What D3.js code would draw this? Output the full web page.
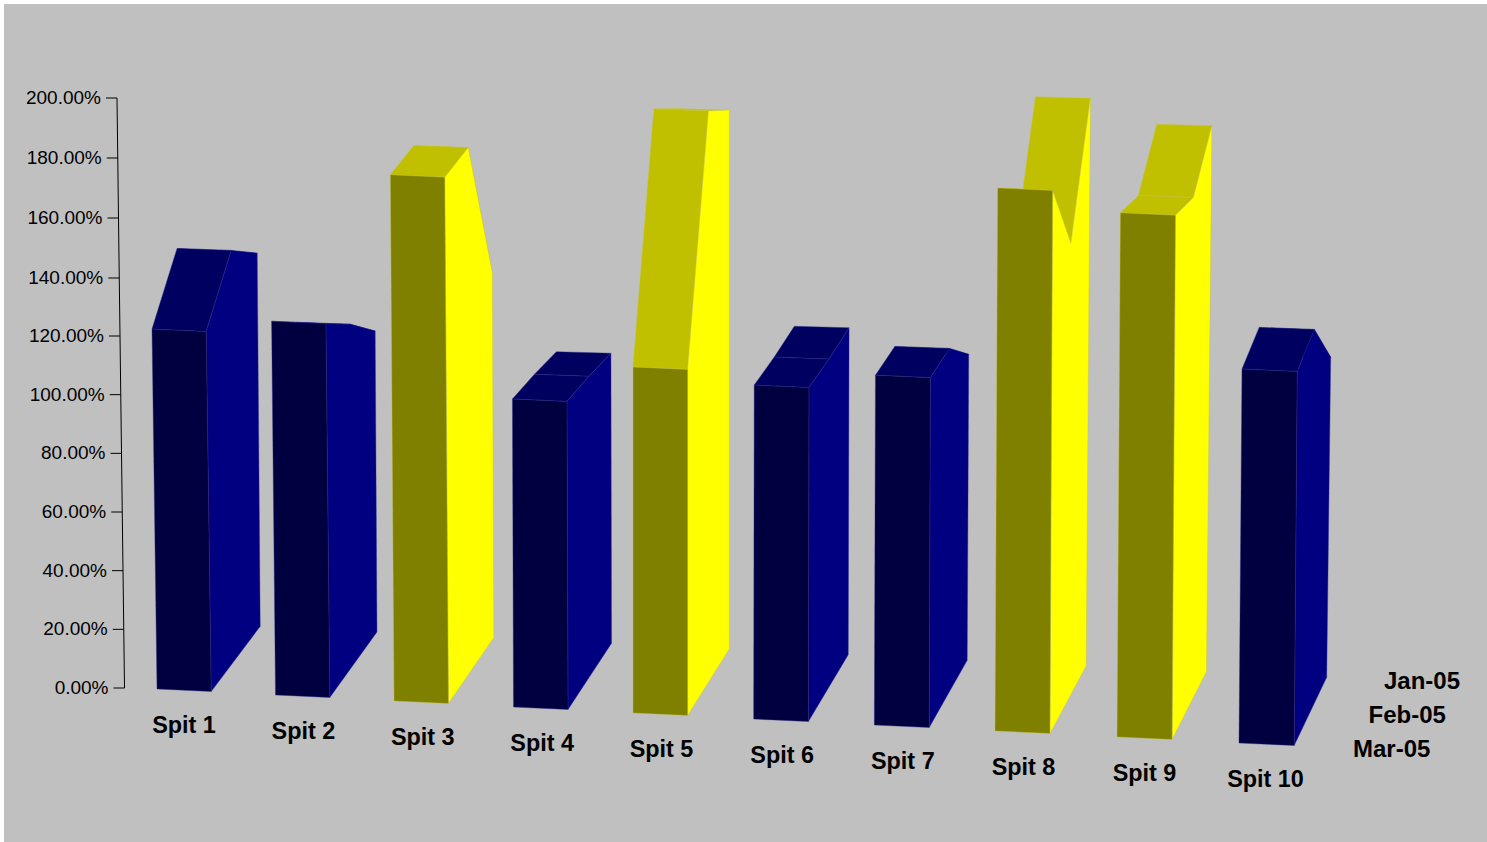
<!DOCTYPE html>
<html><head><meta charset="utf-8">
<script src="https://cdn.jsdelivr.net/npm/d3@7"></script>
<style>html,body{margin:0;padding:0;background:#fff}svg{display:block}</style>
</head><body><svg id="c" width="1487" height="842"></svg>
<script>
const categories = ["Spit 1","Spit 2","Spit 3","Spit 4","Spit 5","Spit 6","Spit 7","Spit 8","Spit 9","Spit 10"];
const seriesNames = ["Mar-05","Feb-05","Jan-05"];
const mar05 = [122.2,126.9,178.7,104.6,117.5,113.4,118.8,184.4,178.0,127.0];
const feb05 = [138.7,115.6,177.6,101.9,194.0,111.7,117.3,155.0,172.5,129.7];
const jan05 = [126.7,102.2,124.0,98.5,183.0,111.0,103.9,192.8,185.4,108.7];
const axisTicks = [0,20,40,60,80,100,120,140,160,180,200];
const seriesValues = [mar05,feb05,jan05];

const svg = d3.select("#c");
svg.append("rect").attr("x",4).attr("y",4).attr("width",1483).attr("height",838).attr("fill","#c0c0c0");

// projection scales
const last = categories.length-1;
const baseX = d3.scaleLinear().domain([0,2,4,7,last]).range([157,394,633,995,1239]);
const baseY = d3.scaleLinear().domain([0,last]).range([689,743]);
const depthDX = d3.scaleLinear().domain([0,last]).range([49,32.5]);
const depthDY = d3.scaleLinear().domain([0,last]).range([-64.2,-67.2]);
const leanFront = d3.scaleLinear().domain([0,4,last]).range([-0.0139,0,0.008]);
const leanBack  = d3.scaleLinear().domain([0,4,last]).range([-0.008,0,0.0125]);
const height = d3.scaleLinear().domain([0,200]).range([0,589]);
const depth = d3.scalePoint().domain(seriesNames).range([0,1]);
const barW = d3.scaleLinear().domain([0,last]).range([54.2,55.2]);
const barSkew = d3.scaleLinear().domain([0,1]).range([2.5,1.5]);

const axisY = d3.scaleLinear().domain([0,120,140,200]).range([688,336,278,98]);
const axisX = d3.scaleLinear().domain([0,200]).range([124.5,117]);

function P(i, side, series, v){
  const t = depth(series);
  const h = height(v);
  const lean = leanFront(i)*(1-t) + leanBack(i)*t;
  return [baseX(i) + side*barW(i) + t*depthDX(i) + lean*h,
          baseY(i) + side*barSkew(t) + t*depthDY(i) - h];
}
const poly = d3.line();
const tone = d3.scaleThreshold().domain([150]).range(["navy","yellow"]);
const palette = {
  navy:{front:"#000040",side:"#000080",top:"#000060",seam:"#2a2a8a"},
  yellow:{front:"#808000",side:"#ffff00",top:"#c0c000",seam:"#c4c440"}
};

const bars = svg.append("g").selectAll("g").data(categories).join("g");
bars.each(function(name,i){
  const g = d3.select(this);
  const vals = seriesValues.map(s=>s[i]);
  const c = palette[tone(d3.max(vals))];
  const [m,f,j] = vals, [sm,sf,sj] = seriesNames;
  const draw = (pts,fill)=>g.append("path").attr("d",poly(pts)+"Z").attr("fill",fill)
     .attr("stroke",c.seam).attr("stroke-width",0.4).attr("stroke-linejoin","round");
  draw([P(i,0,sf,f),P(i,1,sf,f),P(i,1,sj,j),P(i,0,sj,j)],c.top);
  draw([P(i,0,sm,m),P(i,1,sm,m),P(i,1,sf,f),P(i,0,sf,f)],c.top);
  draw([P(i,1,sm,m),P(i,1,sf,f),P(i,1,sj,j),P(i,1,sj,0),P(i,1,sm,0)],c.side);
  draw([P(i,0,sm,m),P(i,1,sm,m),P(i,1,sm,0),P(i,0,sm,0)],c.front);
});

// value axis
const ax = svg.append("g");
ax.append("path").attr("d",poly(axisTicks.map(v=>[axisX(v),axisY(v)]))).attr("fill","none").attr("stroke","#000").attr("stroke-width",1);
const tk = ax.selectAll("g").data(axisTicks).join("g");
tk.append("line").attr("x1",d=>axisX(d)-11).attr("x2",d=>axisX(d)).attr("y1",d=>axisY(d)).attr("y2",d=>axisY(d)).attr("stroke","#000").attr("stroke-width",1);
const fmt = d=>d.toFixed(2)+"%";
tk.append("text").attr("x",d=>axisX(d)-16).attr("y",d=>axisY(d)+6)
  .attr("text-anchor","end").attr("font-family","Liberation Sans").attr("font-size",19).attr("fill","#000").text(fmt);

// category labels
const labX = d3.scaleLinear().domain([0,4,7,last]).range([184,661.5,1023.5,1265.5]);
const labY = d3.scaleLinear().domain([0,last]).range([733,787]);
svg.append("g").selectAll("text").data(categories).join("text")
  .attr("x",(d,i)=>labX(i)).attr("y",(d,i)=>labY(i)).attr("text-anchor","middle")
  .attr("font-family","Liberation Sans").attr("font-weight","bold").attr("font-size",23.4).attr("fill","#000").text(d=>d);

// series labels
const serX = d3.scalePoint().domain(seriesNames).range([1353,1384]);
const serY = d3.scalePoint().domain(seriesNames).range([757,689]);
svg.append("g").selectAll("text").data(seriesNames).join("text")
  .attr("x",d=>serX(d)).attr("y",d=>serY(d))
  .attr("font-family","Liberation Sans").attr("font-weight","bold").attr("font-size",24).attr("fill","#000").text(d=>d);
</script></body></html>
